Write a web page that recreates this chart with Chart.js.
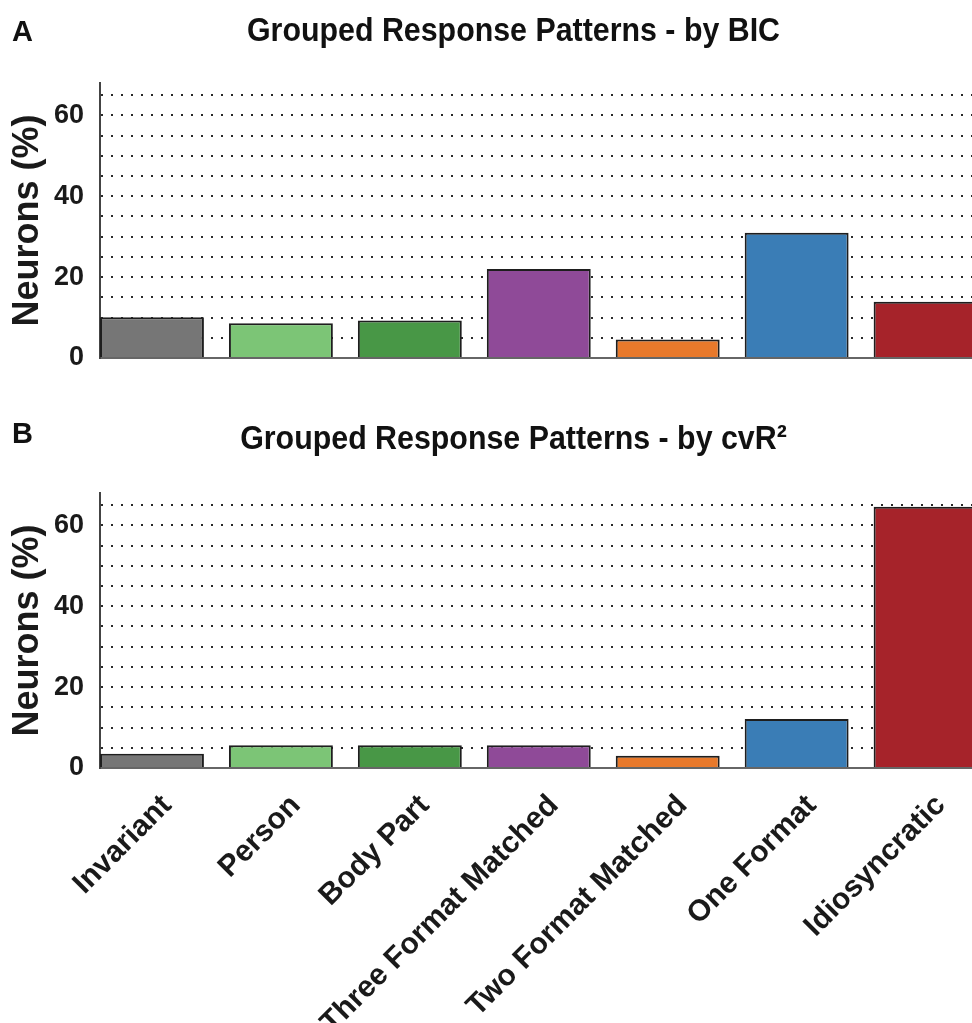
<!DOCTYPE html>
<html>
<head>
<meta charset="utf-8">
<script src="https://cdn.jsdelivr.net/npm/chart.js@4.4.1/dist/chart.umd.min.js"></script>
<style>
  html, body { margin: 0; padding: 0; background: #ffffff; overflow: hidden; width: 972px; height: 1023px; }
  .letter { position: absolute; left: 12px; font: bold 29px "Liberation Sans", Arial, sans-serif; line-height: 29px; color: #111; }
  .title { position: absolute; left: 0; width: 1027px; text-align: center; font: bold 33px "Liberation Sans", Arial, sans-serif; line-height: 33px; color: #111; white-space: nowrap; transform: scaleX(0.92); transform-origin: 513.5px 50%; }
  canvas { position: absolute; left: 0; }
</style>
</head>
<body>
<canvas id="chartA" width="972" height="400" style="top:0px"></canvas>
<canvas id="chartB" width="972" height="613" style="top:410px"></canvas>
<div class="letter" style="top:17px">A</div>
<div class="title" style="top:13px">Grouped Response Patterns - by BIC</div>
<div class="letter" style="top:419px">B</div>
<div class="title" style="top:421px">Grouped Response Patterns - by cvR²</div>

<script>
// ---- data ----
const categories = ['Invariant', 'Person', 'Body Part', 'Three Format Matched', 'Two Format Matched', 'One Format', 'Idiosyncratic'];
const bicValues  = [10.1, 8.6, 9.3, 22.0, 4.6, 31.0, 13.9];
const cvr2Values = [3.5, 5.6, 5.6, 5.6, 3.0, 12.1, 64.6];
const yTickLabels = [0, 20, 40, 60];
const barColors = ['#767676', '#7cc576', '#489746', '#8f4a98', '#e8792b', '#3a7db6', '#a6232a'];

const FONT = '"Liberation Sans", Arial, sans-serif';
const TEXT = '#1a1a1a';

function buildChart(id, values, showX, canvasHeight) {
  const el = document.getElementById(id);
  return new Chart(el, {
    type: 'bar',
    data: {
      datasets: [{
        data: values.map((v, i) => ({ x: i, y: v })),
        backgroundColor: barColors,
        borderColor: '#1e1e1e',
        borderWidth: 2,
        barPercentage: 0.806,
        categoryPercentage: 1
      }]
    },
    options: {
      responsive: false,
      animation: false,
      events: [],
      layout: { padding: { top: 83, left: 0, right: 0, bottom: 0 } },
      plugins: { legend: { display: false }, tooltip: { enabled: false }, title: { display: false } },
      scales: {
        x: {
          type: 'linear',
          min: -0.403,
          max: 6.36,
          offset: false,
          z: 1,
          grid: { display: false, drawTicks: false },
          border: { display: true, color: '#666666', width: 2 },
          ticks: {
            display: showX,
            stepSize: 1,
            includeBounds: false,
            autoSkip: false,
            minRotation: 45,
            maxRotation: 45,
            padding: 20,
            labelOffset: 15,
            color: TEXT,
            font: { family: FONT, size: 30, weight: 'bold' },
            callback: (v) => (categories[v] !== undefined ? categories[v] : '')
          },
          afterFit: (s) => { s.height = canvasHeight - 358; }
        },
        y: {
          min: 0,
          max: 68,
          z: 1,
          grid: { color: '#2a2a2a', lineWidth: 2, drawTicks: false },
          border: { display: true, color: '#444444', width: 2, dash: [2, 8] },
          ticks: {
            stepSize: 5,
            includeBounds: false,
            autoSkip: false,
            padding: 16,
            color: TEXT,
            font: { family: FONT, size: 27, weight: 'bold' },
            callback: (v) => (yTickLabels.includes(v) ? String(v) : '')
          },
          title: {
            display: true,
            text: 'Neurons (%)',
            color: TEXT,
            font: { family: FONT, size: 36, weight: 'bold' },
            padding: { top: 6, bottom: 0 }
          },
          afterFit: (s) => { s.width = 100; }
        }
      }
    }
  });
}

buildChart('chartA', bicValues, false, 400);
buildChart('chartB', cvr2Values, true, 613);
</script>
</body>
</html>
